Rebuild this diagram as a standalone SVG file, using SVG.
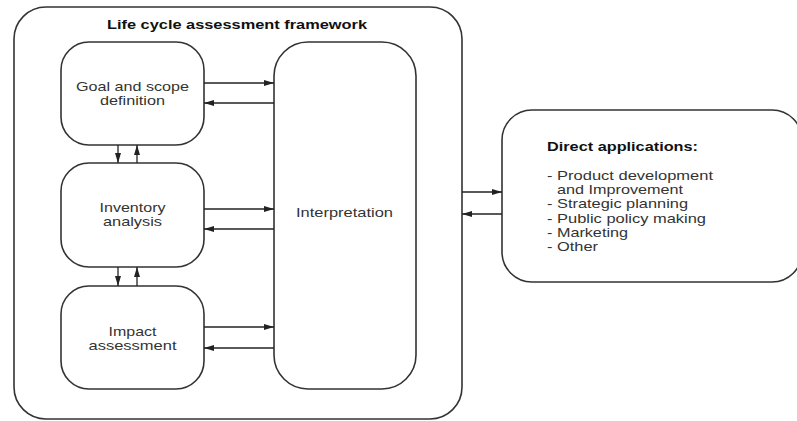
<svg xmlns="http://www.w3.org/2000/svg" width="797" height="421" viewBox="0 0 797 421">
<style>
.box{fill:#fff;stroke:#333;stroke-width:1.6}
.t{font-family:"Liberation Sans",Arial,sans-serif;font-size:13.5px;fill:#333;text-anchor:middle}
.tl{font-family:"Liberation Sans",Arial,sans-serif;font-size:13.5px;fill:#333}
.b{font-weight:bold;fill:#111}
.c{stroke:#222;stroke-width:1.3;fill:none;marker-end:url(#ah)}
</style>
<defs>
<marker id="ah" viewBox="0 0 10 6" refX="10" refY="3" markerWidth="10" markerHeight="6" markerUnits="userSpaceOnUse" orient="auto">
<path d="M0,0 L10,3 L0,6 z" fill="#222"/>
</marker>
</defs>
<rect width="797" height="421" fill="#fff"/>
<g id="framework">
<rect class="box" x="14" y="7" width="448" height="412" rx="32"/>
<text class="t b" x="237" y="29" textLength="260" lengthAdjust="spacingAndGlyphs">Life cycle assessment framework</text>
</g>
<g id="goal">
<rect class="box" x="61" y="42" width="143" height="103" rx="28"/>
<text class="t" x="132.5" y="91" textLength="113" lengthAdjust="spacingAndGlyphs">Goal and scope</text>
<text class="t" x="132.5" y="104.5" textLength="65" lengthAdjust="spacingAndGlyphs">definition</text>
</g>
<g id="inventory">
<rect class="box" x="61" y="163" width="143" height="104" rx="28"/>
<text class="t" x="132.5" y="212" textLength="66" lengthAdjust="spacingAndGlyphs">Inventory</text>
<text class="t" x="132.5" y="226" textLength="59" lengthAdjust="spacingAndGlyphs">analysis</text>
</g>
<g id="impact">
<rect class="box" x="61" y="286" width="143" height="103" rx="28"/>
<text class="t" x="132.5" y="336" textLength="48" lengthAdjust="spacingAndGlyphs">Impact</text>
<text class="t" x="132.5" y="350" textLength="88" lengthAdjust="spacingAndGlyphs">assessment</text>
</g>
<g id="interpretation">
<rect class="box" x="274" y="42" width="142" height="347" rx="34"/>
<text class="t" x="344.5" y="217" textLength="97" lengthAdjust="spacingAndGlyphs">Interpretation</text>
</g>
<g id="applications">
<rect class="box" x="502" y="110" width="300" height="172" rx="30"/>
<text class="tl b" x="547" y="151" textLength="151" lengthAdjust="spacingAndGlyphs">Direct applications:</text>
<text class="tl" x="547" y="180" textLength="166" lengthAdjust="spacingAndGlyphs">- Product development</text>
<text class="tl" x="557" y="193.5" textLength="126" lengthAdjust="spacingAndGlyphs">and Improvement</text>
<text class="tl" x="547" y="208" textLength="141" lengthAdjust="spacingAndGlyphs">- Strategic planning</text>
<text class="tl" x="547" y="222.5" textLength="159" lengthAdjust="spacingAndGlyphs">- Public policy making</text>
<text class="tl" x="547" y="237" textLength="81" lengthAdjust="spacingAndGlyphs">- Marketing</text>
<text class="tl" x="547" y="251" textLength="51" lengthAdjust="spacingAndGlyphs">- Other</text>
</g>
<g id="connectors">
<line class="c" x1="204" y1="83" x2="274" y2="83"/>
<line class="c" x1="274" y1="103" x2="204" y2="103"/>
<line class="c" x1="204" y1="209" x2="274" y2="209"/>
<line class="c" x1="274" y1="229" x2="204" y2="229"/>
<line class="c" x1="204" y1="327" x2="274" y2="327"/>
<line class="c" x1="274" y1="348" x2="204" y2="348"/>
<line class="c" x1="118" y1="145" x2="118" y2="163"/>
<line class="c" x1="137" y1="163" x2="137" y2="145"/>
<line class="c" x1="118" y1="267" x2="118" y2="286"/>
<line class="c" x1="137" y1="286" x2="137" y2="267"/>
<line class="c" x1="462" y1="192" x2="502" y2="192"/>
<line class="c" x1="502" y1="214" x2="462" y2="214"/>
</g>
</svg>
